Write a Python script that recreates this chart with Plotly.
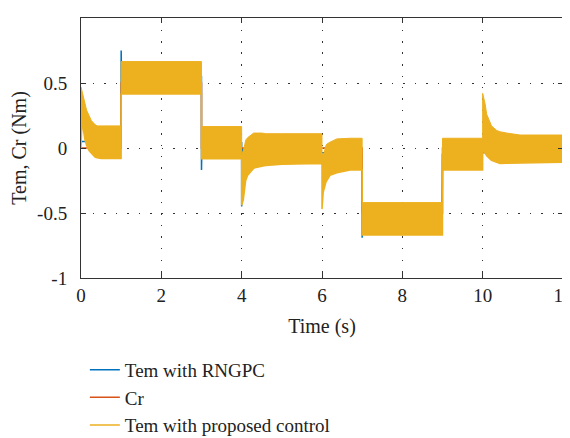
import plotly.graph_objects as go

# Envelope of the "Tem with proposed control" band (time in s, torque in Nm)
t_env = [0.0, 0.03, 0.06, 0.1, 0.14, 0.2, 0.26, 0.35, 0.4, 0.5, 0.999,
         1.0, 2.999,
         3.0, 3.999,
         4.0, 4.04, 4.08, 4.1, 4.15, 4.25, 4.3, 4.5, 4.6, 5.0, 5.999,
         6.0, 6.03, 6.1, 6.12, 6.2, 6.37, 6.7, 6.999,
         7.0, 8.999,
         9.0, 9.999,
         10.0, 10.06, 10.1, 10.18, 10.22, 10.35, 10.43, 10.6, 10.93, 12.0]
upper = [0.47, 0.43, 0.39, 0.33, 0.29, 0.25, 0.21, 0.18, 0.17, 0.17, 0.17,
         0.665, 0.665,
         0.165, 0.165,
         -0.05, -0.02, 0.03, 0.06, 0.08, 0.10, 0.115, 0.115, 0.11, 0.11, 0.11,
         -0.04, -0.06, 0.02, 0.03, 0.045, 0.07, 0.075, 0.075,
         -0.42, -0.42,
         0.075, 0.075,
         0.42, 0.34, 0.26, 0.19, 0.17, 0.135, 0.125, 0.115, 0.10, 0.10]
lower = [0.0, 0.25, 0.14, 0.06, 0.02, -0.02, -0.04, -0.07, -0.075, -0.08, -0.08,
         0.415, 0.415,
         -0.083, -0.083,
         -0.44, -0.40, -0.28, -0.25, -0.21, -0.17, -0.155, -0.14, -0.135, -0.125, -0.12,
         -0.47, -0.34, -0.26, -0.25, -0.21, -0.19, -0.17, -0.17,
         -0.67, -0.67,
         -0.17, -0.17,
         -0.02, -0.04, -0.06, -0.085, -0.095, -0.11, -0.12, -0.118, -0.115, -0.11]

# Tem with RNGPC (visible mainly through its transient spikes)
t_rngpc = [0, 0.999, 1.0, 1.01, 2.999, 3.0, 3.01, 3.999, 4.0, 4.02,
           6.999, 7.0, 7.01, 8.99, 9.0, 12]
y_rngpc = [0.05, 0.05, 0.75, 0.55, 0.55, -0.17, 0.04, 0.04, -0.45, -0.01,
           -0.05, -0.69, -0.55, -0.55, -0.05, -0.01]

# Load torque reference Cr
t_cr = [0, 1, 1, 3, 3, 7, 7, 9, 9, 12]
y_cr = [0, 0, 0.5, 0.5, 0, 0, -0.5, -0.5, 0, 0]

x_ticks = [0, 2, 4, 6, 8, 10, 12]
y_ticks = [-1, -0.5, 0, 0.5, 1]
y_ticktext = ["-1", "-0.5", "0", "0.5", "1"]

BLUE = "#0072BD"
RED = "#D95319"
ORANGE = "#EDB120"
FONT = "Liberation Serif"
TXT = "#222222"

fig = go.Figure()
fig.add_trace(go.Scatter(x=t_rngpc, y=y_rngpc, mode="lines", name="Tem with RNGPC",
                         legendgroup="a", legendrank=1,
                         line=dict(color=BLUE, width=1.5)))
fig.add_trace(go.Scatter(x=t_cr, y=y_cr, mode="lines", name="Cr",
                         legendgroup="b", legendrank=2,
                         line=dict(color=RED, width=1.5)))
fig.add_trace(go.Scatter(x=t_env, y=lower, mode="lines", name="Tem with proposed control",
                         legendgroup="c", legendrank=3,
                         line=dict(color=ORANGE, width=1.5)))
fig.add_trace(go.Scatter(x=t_env, y=upper, mode="lines", showlegend=False,
                         legendgroup="c",
                         fill="tonexty", fillcolor=ORANGE,
                         line=dict(color=ORANGE, width=1)))

axis_common = dict(
    showline=True, linecolor="#333333", linewidth=1, mirror="ticks",
    ticks="inside", ticklen=5, tickcolor="#333333",
    showgrid=True, gridcolor="#333333", griddash="1.5px,10px", gridwidth=1,
    zeroline=False, automargin=False,
    tickfont=dict(family=FONT, size=19, color=TXT),
)

fig.update_xaxes(range=[0, 12], tickvals=x_ticks, ticklabeloverflow="allow",
                 title=dict(text="Time (s)", font=dict(family=FONT, size=20, color=TXT),
                            standoff=14),
                 **axis_common)
fig.update_yaxes(range=[-1, 1], tickvals=y_ticks, ticktext=y_ticktext,
                 ticklabelstandoff=9,
                 title=dict(text="Tem, Cr (Nm)", font=dict(family=FONT, size=20, color=TXT),
                            standoff=11),
                 **axis_common)

# The page body adds an 8 px offset, so the figure is sized to the visible area.
fig.update_layout(
    width=562, height=430,
    margin=dict(l=73, r=7, t=10, b=160, autoexpand=False),
    plot_bgcolor="white", paper_bgcolor="white",
    font=dict(family=FONT, size=20, color=TXT),
    legend=dict(x=0.008, y=-0.28, xanchor="left", yanchor="top",
                traceorder="grouped", tracegroupgap=0,
                font=dict(family=FONT, size=19, color=TXT),
                bgcolor="rgba(0,0,0,0)"),
    showlegend=True,
)

fig.write_html("out.html")
